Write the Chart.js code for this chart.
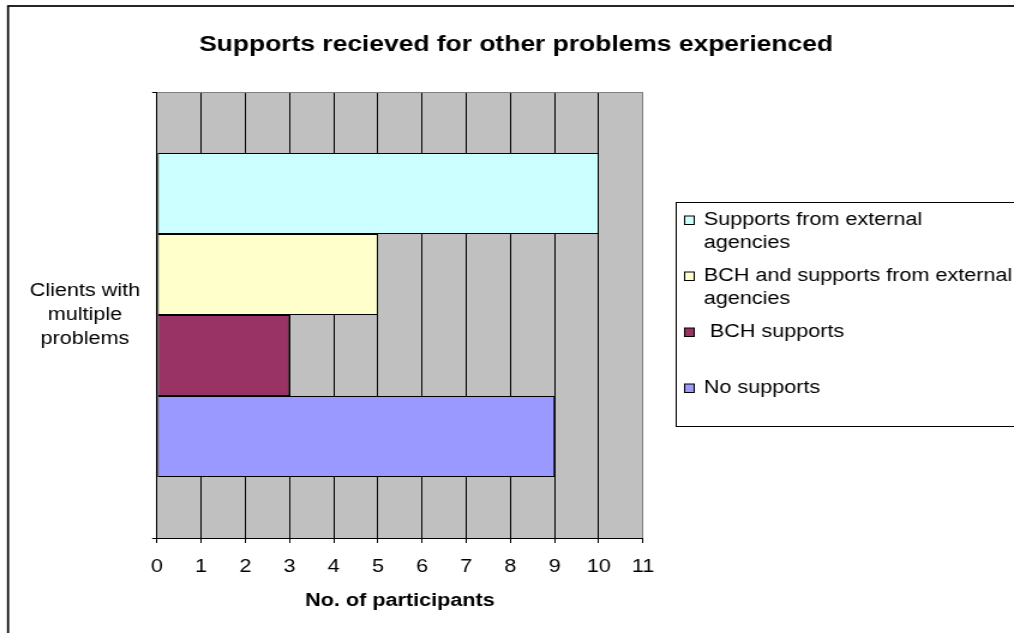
<!DOCTYPE html>
<html>
<head>
<meta charset="utf-8">
<script src="https://cdn.jsdelivr.net/npm/chart.js@4/dist/chart.umd.min.js"></script>
<style>
  html, body { margin: 0; padding: 0; background: #fff; }
  #chart { width: 1014px !important; height: 633px !important; display: block; }
</style>
</head>
<body>
<canvas id="chart" width="845" height="633" style="width:1014px;height:633px"></canvas>
<script>
// data
const chartTitle = "Supports recieved for other problems experienced";
const categoryLabels = [["Clients with", "multiple", "problems"]];
const seriesNames = ["Supports from external agencies", "BCH and supports from external agencies", " BCH supports", "No supports"];
const seriesValues = [10, 5, 3, 9];
const legendText = [["Supports from external", "agencies"], ["BCH and supports from external", "agencies"], [" BCH supports"], ["No supports"]];
const xAxisTitle = "No. of participants";
const xMin = 0, xMax = 11;

// styles
const seriesColors = ["#CCFFFF", "#FFFFCC", "#993366", "#9999FF"];
const fontFamily = "'Liberation Sans', Arial, sans-serif";
Chart.defaults.font.family = fontFamily;
Chart.defaults.color = "#000";

const canvas = document.getElementById("chart");

// grey plot background + outer frame + title
const backdrop = {
    id: "backdrop",
    beforeDraw(chart) {
        const { ctx, chartArea: a } = chart;
        ctx.save();
        ctx.fillStyle = "#fff";
        ctx.fillRect(0, 0, chart.width, chart.height);
        ctx.fillStyle = "#C0C0C0";
        ctx.fillRect(a.left, a.top, a.right - a.left, a.bottom - a.top);
        // outer frame, only left & top are inside the picture
        ctx.strokeStyle = "#000";
        ctx.lineWidth = 1.7;
        ctx.strokeRect(6.7, 6, chart.width + 20, chart.height + 20);
        // title
        ctx.fillStyle = "#000";
        ctx.font = "bold 22px " + fontFamily;
        ctx.textAlign = "center";
        ctx.textBaseline = "alphabetic";
        ctx.fillText(chartTitle, 430, 51);
        ctx.restore();
    }
};

// legend box on the right
const sideLegend = {
    id: "sideLegend",
    afterDraw(chart) {
        const { ctx } = chart;
        ctx.save();
        ctx.strokeStyle = "#000";
        ctx.lineWidth = 1;
        ctx.strokeRect(563.5, 202.5, 400, 224);
        ctx.font = "18px " + fontFamily;
        ctx.textAlign = "left";
        ctx.textBaseline = "alphabetic";
        chart.data.datasets.forEach((ds, i) => {
            const base = 225 + i * 56;
            ctx.fillStyle = ds.backgroundColor;
            ctx.fillRect(570.5, base - 9, 8, 8.5);
            ctx.strokeRect(570.5, base - 9, 8, 8.5);
            ctx.fillStyle = "#000";
            legendText[i].forEach((line, j) => {
                ctx.fillText(line, 586.5, base + j * 23);
            });
        });
        ctx.restore();
    }
};

new Chart(canvas, {
    type: "bar",
    data: {
        labels: categoryLabels,
        datasets: seriesNames.map((name, i) => ({
            label: name,
            data: [seriesValues[i]],
            backgroundColor: seriesColors[i],
            borderColor: "#000",
            borderWidth: 1,
            borderSkipped: false,
            barPercentage: 1,
            categoryPercentage: 0.7265
        }))
    },
    options: {
        indexAxis: "y",
        responsive: false,
        animation: false,
        devicePixelRatio: 1,
        layout: { padding: { left: 0, right: 309.2, top: 92, bottom: 0 } },
        plugins: {
            legend: { display: false },
            title: { display: false },
            tooltip: { enabled: false }
        },
        scales: {
            x: {
                type: "linear",
                min: xMin,
                max: xMax,
                ticks: { stepSize: 1, padding: 13, font: { size: 18 }, color: "#000" },
                grid: {
                    color: (c) => c.index === xMax ? "#808080" : "#000",
                    tickColor: "#000",
                    tickLength: 5,
                    lineWidth: 1
                },
                border: { display: true, color: "#000", width: 1 },
                title: {
                    display: true,
                    text: xAxisTitle,
                    font: { size: 18, weight: "bold" },
                    color: "#000",
                    padding: { top: 0, bottom: 21.5 }
                },
                afterFit: (scale) => { scale.height = 95; }
            },
            y: {
                ticks: {
                    crossAlign: "center",
                    padding: 10,
                    font: { size: 18, lineHeight: 1.35 },
                    color: "#000"
                },
                grid: {
                    color: "#808080",
                    tickColor: "#000",
                    tickLength: 4,
                    lineWidth: 1
                },
                border: { display: true, color: "#000", width: 1 },
                afterFit: (scale) => { scale.width = 130.8; }
            }
        }
    },
    plugins: [backdrop, sideLegend]
});
</script>
</body>
</html>
